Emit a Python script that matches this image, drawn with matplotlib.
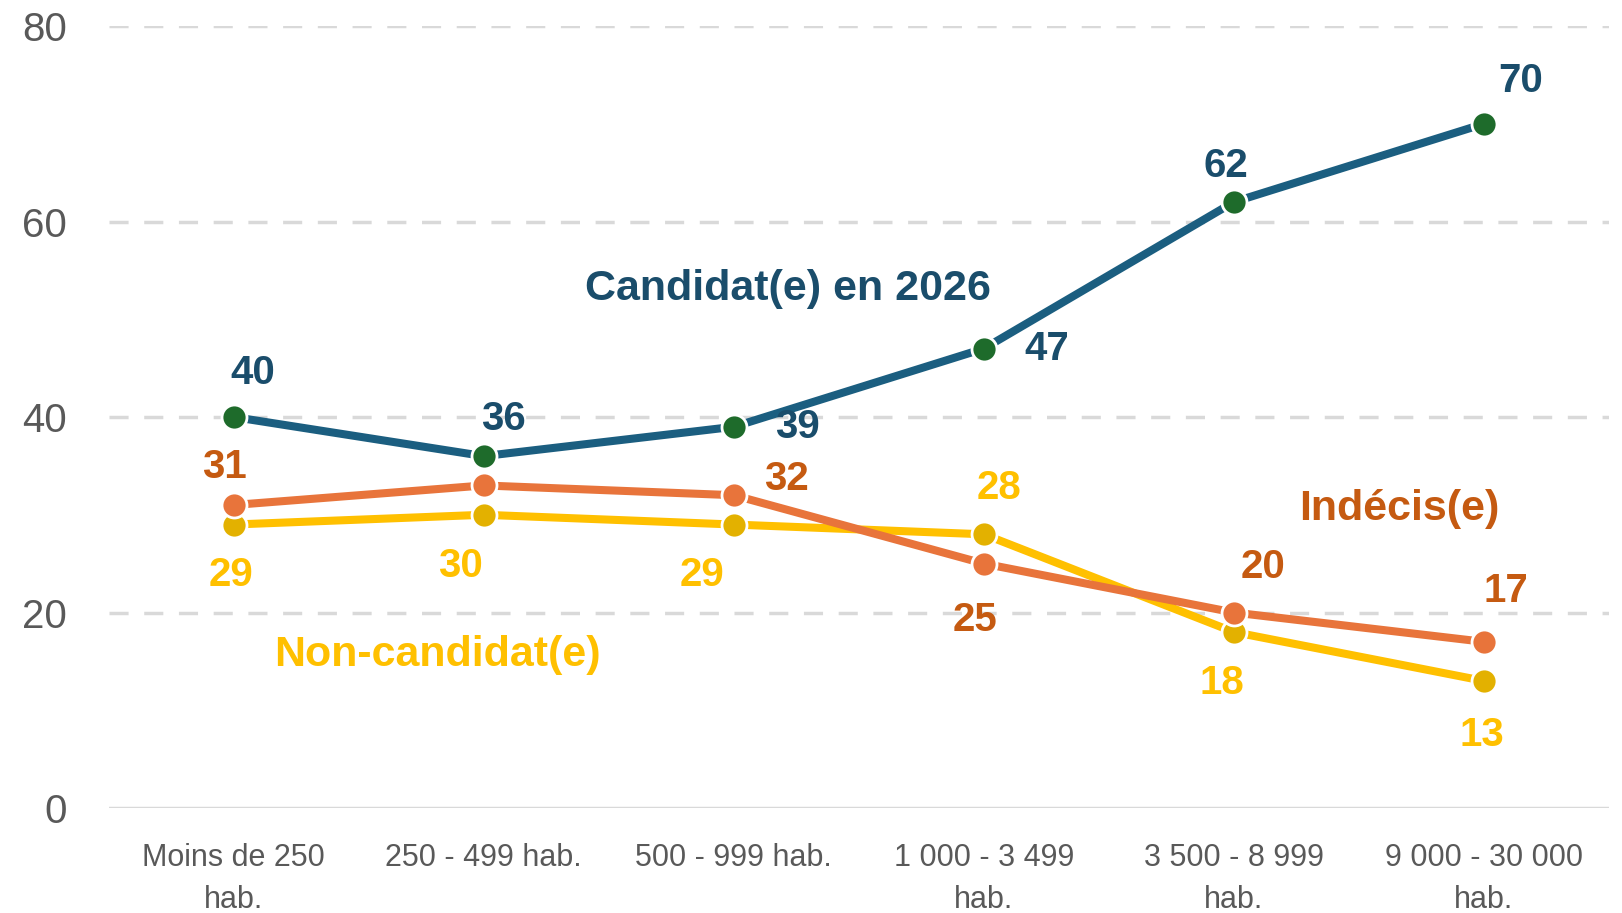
import matplotlib
matplotlib.use("Agg")
import matplotlib.pyplot as plt

categories = ["Moins de 250\nhab.", "250 - 499 hab.", "500 - 999 hab.",
              "1 000 - 3 499\nhab.", "3 500 - 8 999\nhab.", "9 000 - 30 000\nhab."]
candidat = [40, 36, 39, 47, 62, 70]
indecis = [31, 33, 32, 25, 20, 17]
non_candidat = [29, 30, 29, 28, 18, 13]
yticks = [0, 20, 40, 60, 80]

# which points carry a data label (the reference omits one)
indecis_labeled = [True, False, True, True, True, True]

fam = "Liberation Sans"

fig = plt.figure(figsize=(16.22, 9.13), dpi=100)
ax = fig.add_axes([0.067, 0.115, 0.925, 0.8565])
x = list(range(len(categories)))

ax.set_xlim(-0.5, 5.5)
ax.set_ylim(0, 80)
for s in ax.spines.values():
    s.set_visible(False)

for yv in yticks[1:]:
    ax.axhline(yv, color="#d9d9d9", lw=2.5, dashes=(5.5, 4.5), zorder=0)
ax.axhline(0, color="#d9d9d9", lw=2.5, zorder=0)

ax.set_yticks(yticks)
ax.set_yticklabels([str(v) for v in yticks], fontsize=29, color="#595959", family=fam)
ax.set_xticks(x)
ax.set_xticklabels(categories, fontsize=22, color="#595959", family=fam, linespacing=1.55)
ax.tick_params(axis="both", length=0)
ax.tick_params(axis="y", pad=30)
ax.tick_params(axis="x", pad=25)

blue = "#1b5e80"
green = "#1e6b2b"
orange = "#e8743b"
orange_txt = "#c55a11"
gold = "#ffc000"
gold_mk = "#e3b100"
blue_txt = "#1a4d6b"

ms = 18
lw = 5.8
ax.plot(x, non_candidat, color=gold, lw=lw, marker="o", ms=ms, mfc=gold_mk,
        mec="white", mew=2, zorder=3, solid_capstyle="round")
ax.plot(x, indecis, color=orange, lw=lw, marker="o", ms=ms, mfc=orange,
        mec="white", mew=2, zorder=4, solid_capstyle="round")
ax.plot(x, candidat, color=blue, lw=lw, marker="o", ms=ms, mfc=green,
        mec="white", mew=2, zorder=5, solid_capstyle="round")

lab_fs = 29
cand_off = [(19, 44), (20, 37), (64, 0), (63, 0), (-8, 36), (37, 43)]
ind_off = [(-9, 38), (0, 0), (53, 16), (-9, -56), (29, 46), (22, 51)]
non_off = [(-3, -50), (-23, -51), (-32, -50), (15, 46), (-12, -51), (-2, -54)]

for xi, v, off in zip(x, candidat, cand_off):
    ax.annotate(str(v), (xi, v), xytext=off, textcoords="offset pixels",
                ha="center", va="center", fontsize=lab_fs, fontweight="bold",
                color=blue_txt, family=fam, zorder=6)
for xi, v, off, lab in zip(x, indecis, ind_off, indecis_labeled):
    if lab:
        ax.annotate(str(v), (xi, v), xytext=off, textcoords="offset pixels",
                    ha="center", va="center", fontsize=lab_fs, fontweight="bold",
                    color=orange_txt, family=fam, zorder=6)
for xi, v, off in zip(x, non_candidat, non_off):
    ax.annotate(str(v), (xi, v), xytext=off, textcoords="offset pixels",
                ha="center", va="center", fontsize=lab_fs, fontweight="bold",
                color=gold, family=fam, zorder=6)

# series names
fig.text(788 / 1622, 1 - 289 / 913, "Candidat(e) en 2026", ha="center", va="center",
         fontsize=31, fontweight="bold", color=blue_txt, family=fam)
fig.text(1399 / 1622, 1 - 509 / 913, "Indécis(e)", ha="center", va="center",
         fontsize=31, fontweight="bold", color=orange_txt, family=fam)
fig.text(437 / 1622, 1 - 655 / 913, "Non-candidat(e)", ha="center", va="center",
         fontsize=31, fontweight="bold", color=gold, family=fam)

fig.savefig("out.png", dpi=100)
